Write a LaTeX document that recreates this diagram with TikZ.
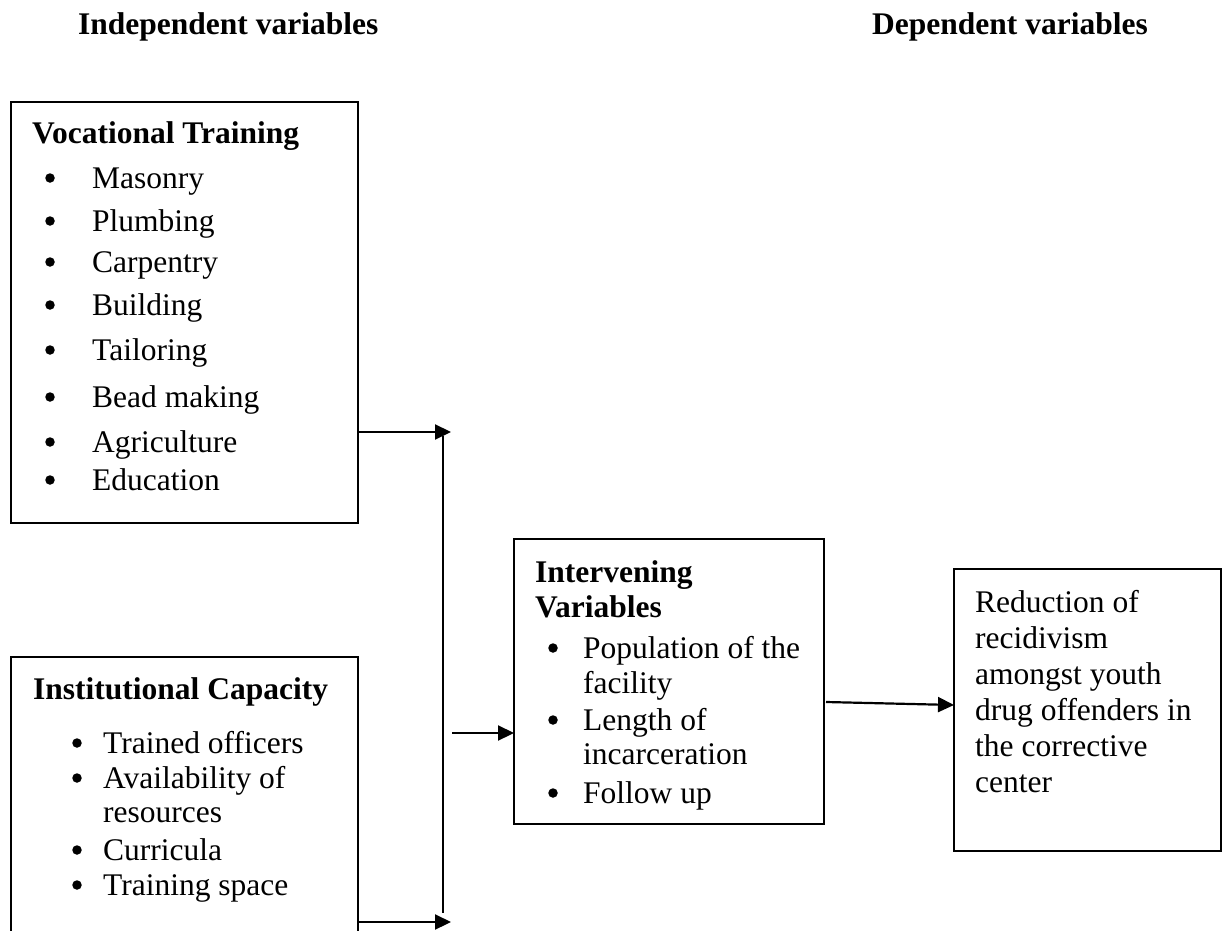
\documentclass[tikz,border=0pt]{standalone}
\usepackage{fontspec}
\setmainfont{Liberation Serif}
\usetikzlibrary{arrows.meta}
\begin{document}
\begin{tikzpicture}[x=1pt,y=-1pt,
  box/.style={draw,line width=1.5pt,inner sep=0pt,outer sep=0pt,anchor=north west},
  txt/.style={inner sep=0pt,anchor=base west,font=\fontsize{31.5}{36}\selectfont},
  ttl/.style={inner sep=0pt,anchor=base west,font=\fontsize{31.5}{36}\selectfont\bfseries},
  dot/.style={circle,fill=black,inner sep=0pt,minimum size=9.5pt},
  arr/.style={line width=2.2pt,-{Triangle[length=16pt,width=15pt]}},
  ln/.style={line width=2pt}]
\useasboundingbox (0,0) rectangle (1223,931);
\clip (0,0) rectangle (1223,931);

% headers
\node[ttl] (hind) at (78,35) {Independent variables};
\node[ttl,anchor=base east] (hdep) at (1148,35) {Dependent variables};

% boxes
\node[box,minimum width=347pt,minimum height=421pt] (voc) at (11,102) {};
\node[box,minimum width=347pt,minimum height=300pt] (inst) at (11,657) {};
\node[box,minimum width=310pt,minimum height=285pt] (inter) at (514,539) {};
\node[box,minimum width=267pt,minimum height=282pt] (res) at (954,569) {};

% vocational training
\node[ttl] (vtitle) at (32,143) {Vocational Training};
\foreach \y/\t [count=\i] in {188/Masonry,231/Plumbing,272/Carpentry,315/Building,360/Tailoring,407/Bead making,452/Agriculture,490/Education}{
  \node[dot] (vb\i) at (50,\y-10) {};
  \node[txt] (vt\i) at (92,\y) {\t};
}

% institutional capacity
\node[ttl] (ititle) at (33,699) {Institutional Capacity};
\foreach \y/\t [count=\i] in {753/Trained officers,788/Availability of,860/Curricula,895/Training space}{
  \node[dot] (ib\i) at (77,\y-10) {};
  \node[txt] (it\i) at (103,\y) {\t};
}
\node[txt] (itx) at (103,822) {resources};

% intervening variables
\node[ttl] (ntitle1) at (535,582) {Intervening};
\node[ttl] (ntitle2) at (535,617) {Variables};
\foreach \y/\t [count=\i] in {658/Population of the,730/Length of,803/Follow up}{
  \node[dot] (nb\i) at (553,\y-10) {};
  \node[txt] (nt\i) at (583,\y) {\t};
}
\node[txt] (nx1) at (583,693) {facility};
\node[txt] (nx2) at (583,764) {incarceration};

% dependent
\foreach \y/\t [count=\i] in {612/Reduction of,648/recidivism,684/amongst youth,720/drug offenders in,756/the corrective,792/center}{
  \node[txt] (r\i) at (975,\y) {\t};
}

% connectors
\coordinate (j1) at (451,432);
\coordinate (vtop) at (443,436);
\coordinate (vbot) at (443,913);
\coordinate (j2) at (452,733);
\coordinate (j3) at (451,922);
\coordinate (k1) at (826,702);
\coordinate (k2) at (953,705);
\draw[arr] (voc.east |- j1) -- (j1);
\draw[ln] (vtop) -- (vbot);
\draw[arr] (j2) -- (inter.west |- j2);
\draw[arr] (inst.east |- j3) -- (j3);
\draw[arr] (k1) -- (res.west |- k2);
\end{tikzpicture}
\end{document}
